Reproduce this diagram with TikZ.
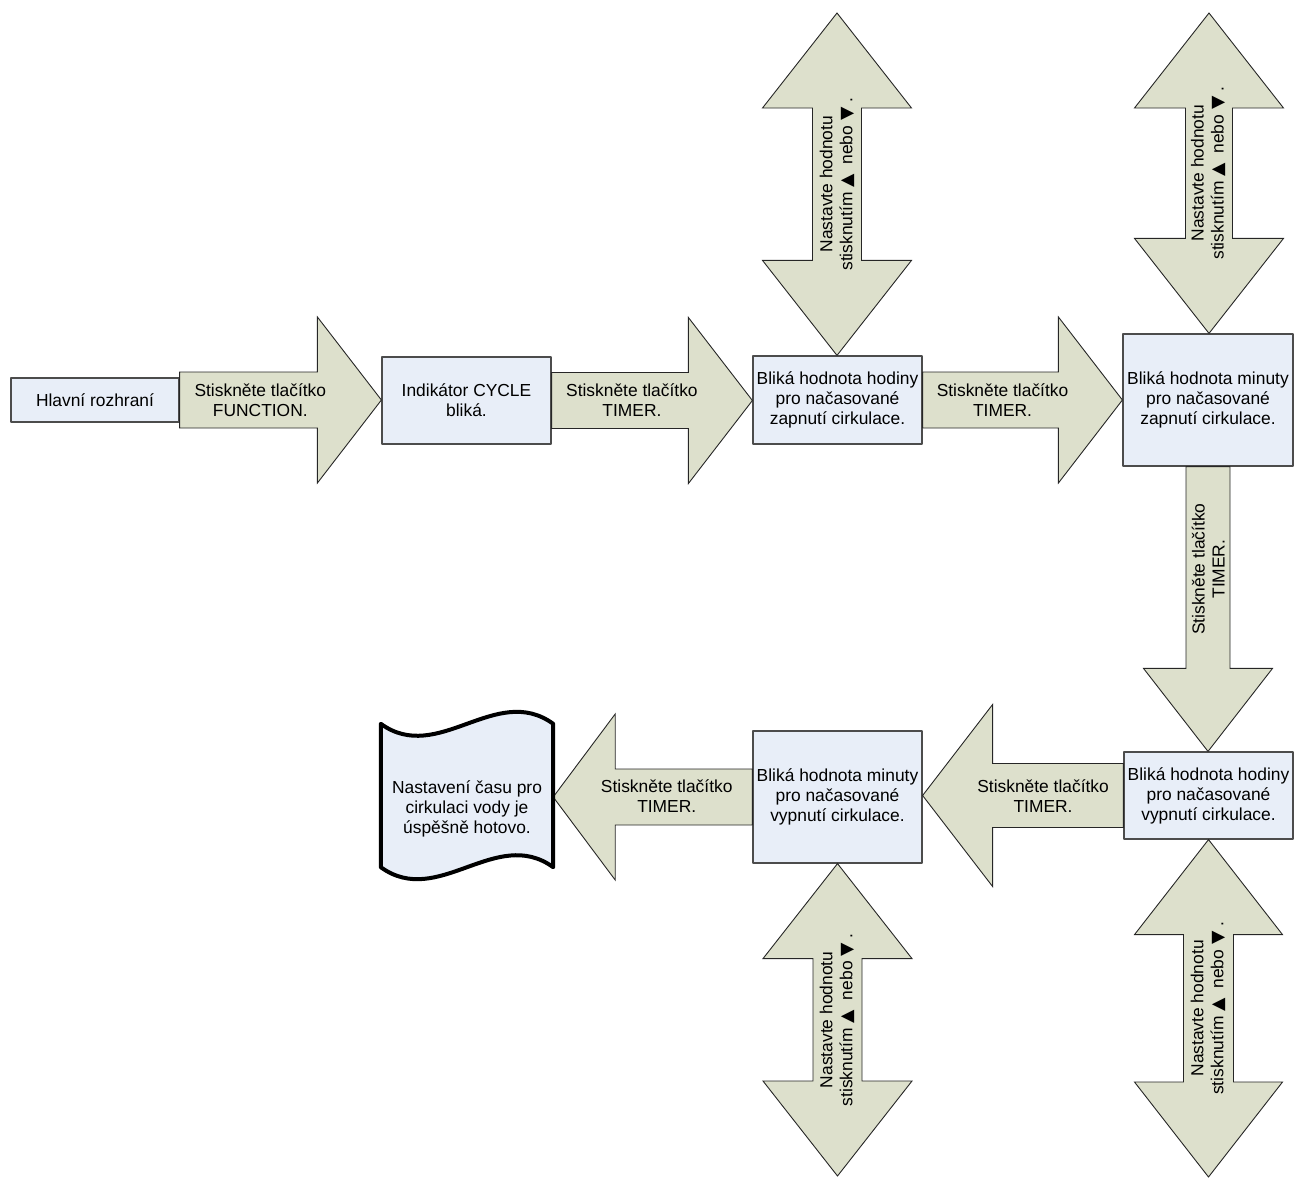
\documentclass[tikz,border=0pt]{standalone}
\usepackage{fontspec}
\setmainfont{Liberation Sans}
\newfontfamily\symbolfont{DejaVu Sans}
\usetikzlibrary{calc}
\definecolor{boxfill}{RGB}{232,238,248}
\definecolor{arrowfill}{RGB}{221,224,204}
\tikzset{
	box/.style={draw=black!70,line width=1.2pt,fill=boxfill,align=center,inner sep=1pt,minimum width=169pt},
	docbox/.style={minimum width=172pt,minimum height=143pt,inner sep=0pt},
	docline/.style={draw=black,line width=4pt,fill=boxfill,line join=round},
	blockarrow/.style={draw=black!85,line width=0.9pt,fill=arrowfill,line join=miter},
	lbl/.style={align=center,inner sep=0pt}
}
\newcommand{\hblock}[5]{%
	\draw[blockarrow] let \p1=(#1), \p2=(#2), \n1={\x2-(#5)} in
		(\x1,{\y1+#3}) -- (\n1,{\y1+#3}) -- (\n1,{\y1+#4}) -- (\x2,\y1)
		-- (\n1,{\y1-#4}) -- (\n1,{\y1-#3}) -- (\x1,{\y1-#3}) -- cycle;}
\newcommand{\vblock}[5]{%
	\draw[blockarrow] let \p1=(#1), \p2=(#2), \n1={\y2+(#5)} in
		({\x1-#3},\y1) -- ({\x1-#3},\n1) -- ({\x1-#4},\n1) -- (\x1,\y2)
		-- ({\x1+#4},\n1) -- ({\x1+#3},\n1) -- ({\x1+#3},\y1) -- cycle;}
\newcommand{\dvblock}[5]{%
	\draw[blockarrow] let \p1=(#1), \p2=(#2), \n1={\y1-#5}, \n2={\y2+#5} in
		(\x1,\y1) -- ({\x1+#4},\n1) -- ({\x1+#3},\n1) -- ({\x1+#3},\n2) -- ({\x1+#4},\n2)
		-- (\x1,\y2) -- ({\x1-#4},\n2) -- ({\x1-#3},\n2) -- ({\x1-#3},\n1) -- ({\x1-#4},\n1) -- cycle;}
\newcommand{\setvalue}{Nastavte hodnotu\\stisknutím {\symbolfont ▲}\ \ nebo {\symbolfont ▼} .}
\begin{document}
\begin{tikzpicture}[line cap=round,line join=round,>=stealth,x=1pt,y=-1pt,font=\fontsize{17.4}{20}\selectfont]
	\useasboundingbox (0,0) rectangle (1296,1178);
	\node[box,minimum width=168pt,minimum height=44pt] (main) at (95,400) {Hlavní rozhraní};
	\node[box,minimum height=87pt] (cycle) at (466.5,400.5) {Indikátor CYCLE\\bliká.};
	\node[box,minimum height=88pt] (hourOn) at (837.5,400) {Bliká hodnota hodiny\\pro načasované\\zapnutí cirkulace.};
	\node[box,minimum width=170pt,minimum height=132pt] (minOn) at (1208,400) {Bliká hodnota minuty\\pro načasované\\zapnutí cirkulace.};
	\node[box,minimum height=87pt] (hourOff) at (1208.5,795.5) {Bliká hodnota hodiny\\pro načasované\\vypnutí cirkulace.};
	\node[box,minimum height=132pt] (minOff) at (837.5,797) {Bliká hodnota minuty\\pro načasované\\vypnutí cirkulace.};
	\node[docbox] (done) at (467,795.5) {};
	\coordinate (hourOnTop) at (837,13);
	\coordinate (minOnTop) at (1209,13);
	\coordinate (minOffBot) at (837,1176);
	\coordinate (hourOffBot) at (1208,1177);

	\hblock{main.east}{cycle.west}{28}{83}{64}
	\hblock{cycle.east}{hourOn.west}{28}{83}{64}
	\hblock{hourOn.east}{minOn.west}{28}{83}{64}
	\vblock{minOn.south}{hourOff.north}{22}{64.5}{83}
	\hblock{hourOff.west}{minOff.east}{32}{91}{-70}
	\hblock{minOff.west}{done.east}{28}{83}{-62}
	\dvblock{hourOnTop}{hourOn.north}{24.5}{74.5}{95}
	\dvblock{minOnTop}{minOn.north}{23.5}{74.5}{95}
	\dvblock{minOff.south}{minOffBot}{24.5}{74.5}{95}
	\dvblock{hourOff.south}{hourOffBot}{25}{74}{95}

	\draw[docline] (done.north west) .. controls ($(done.north west)+(57.3,41.5)$) and ($(done.north east)+(-57.3,-41.5)$) .. (done.north east)
		-- (done.south east) .. controls ($(done.south east)+(-57.3,-41.5)$) and ($(done.south west)+(57.3,41.5)$) .. (done.south west) -- cycle;
	\node[lbl] (doneText) at ($(done.center)+(0,13)$) {Nastavení času pro\\cirkulaci vody je\\úspěšně hotovo.};

	\node[lbl] (pressFunction) at ($(main.east)!0.4!(cycle.west)$) {Stiskněte tlačítko\\FUNCTION.};
	\node[lbl] (pressTimerA) at ($(cycle.east)!0.4!(hourOn.west)$) {Stiskněte tlačítko\\TIMER.};
	\node[lbl] (pressTimerB) at ($(hourOn.east)!0.4!(minOn.west)$) {Stiskněte tlačítko\\TIMER.};
	\node[lbl,rotate=90] (pressTimerC) at ($(minOn.south)!0.36!(hourOff.north)$) {Stiskněte tlačítko\\TIMER.};
	\node[lbl] (pressTimerD) at ($(hourOff.west)!0.4!(minOff.east)$) {Stiskněte tlačítko\\TIMER.};
	\node[lbl] (pressTimerE) at ($(minOff.west)!0.43!(done.east)$) {Stiskněte tlačítko\\TIMER.};

	\node[lbl,rotate=90] (setHourOn) at ($(hourOnTop)!0.5!(hourOn.north)$) {\setvalue};
	\node[lbl,rotate=90] (setMinOn) at ($(minOnTop)!0.5!(minOn.north)$) {\setvalue};
	\node[lbl,rotate=90] (setMinOff) at ($(minOff.south)!0.5!(minOffBot)$) {\setvalue};
	\node[lbl,rotate=90] (setHourOff) at ($(hourOff.south)!0.5!(hourOffBot)$) {\setvalue};
\end{tikzpicture}
\end{document}
